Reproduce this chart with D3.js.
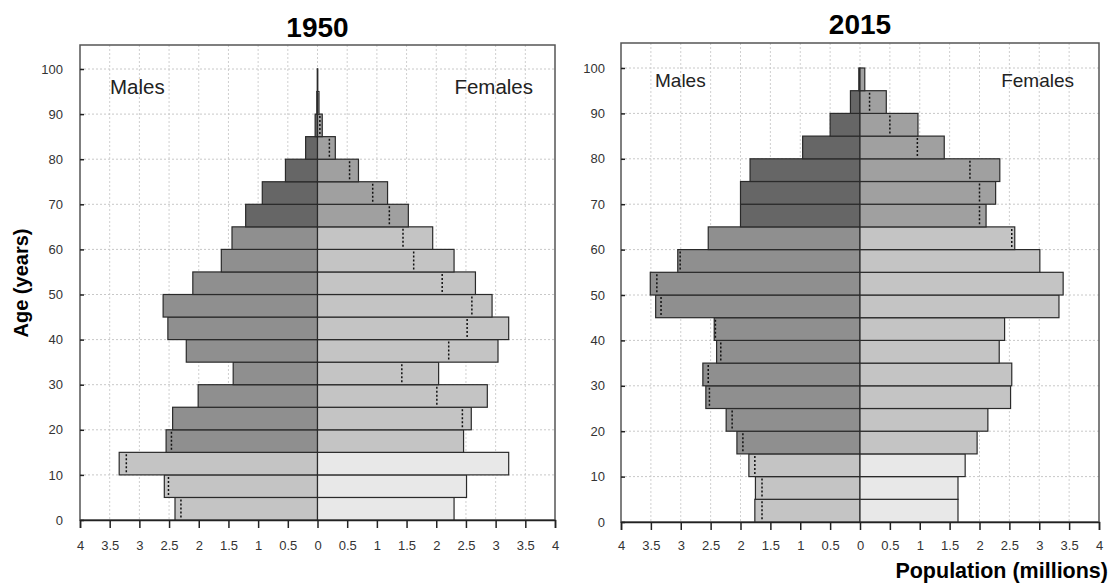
<!DOCTYPE html>
<html>
<head>
<meta charset="utf-8">
<script src="https://cdn.jsdelivr.net/npm/d3@7"></script>
<style>
  html, body { margin: 0; padding: 0; background: #fff; }
  svg { display: block; font-family: "Liberation Sans", Arial, sans-serif; }
</style>
</head>
<body>
<svg id="chart" width="1110" height="584"></svg>
<script>
// ---- data ----
const ageStarts = [0,5,10,15,20,25,30,35,40,45,50,55,60,65,70,75,80,85,90,95];
const ageGroups = ["0-4","5-9","10-14","15-19","20-24","25-29","30-34","35-39","40-44","45-49","50-54","55-59","60-64","65-69","70-74","75-79","80-84","85-89","90-94","95-99"];
const males1950   = [2.40,2.58,3.34,2.55,2.44,2.01,1.42,2.21,2.52,2.60,2.10,1.62,1.44,1.21,0.93,0.54,0.20,0.04,0.012,0.003];
const females1950 = [2.30,2.51,3.22,2.46,2.59,2.86,2.04,3.04,3.22,2.94,2.66,2.30,1.94,1.53,1.18,0.69,0.30,0.08,0.025,0.004];
const males2015   = [1.76,1.75,1.86,2.06,2.24,2.58,2.63,2.40,2.44,3.42,3.51,3.05,2.54,2.00,2.00,1.84,0.96,0.50,0.16,0.02];
const females2015 = [1.64,1.64,1.76,1.96,2.14,2.52,2.54,2.33,2.42,3.33,3.40,3.01,2.59,2.11,2.27,2.34,1.41,0.97,0.44,0.08];
const panelTitles = ["1950","2015"];
const xTickValues = [-4,-3.5,-3,-2.5,-2,-1.5,-1,-0.5,0,0.5,1,1.5,2,2.5,3,3.5,4];
const yTickValues = [0,10,20,30,40,50,60,70,80,90,100];
const sexLabels = ["Males","Females"];

// ---- styling ----
const maleColors   = {young:"#c4c4c4", adult:"#8f8f8f", old:"#666666"};
const femaleColors = {young:"#e8e8e8", adult:"#c4c4c4", old:"#a0a0a0"};
function band(a){ return a < 15 ? "young" : (a < 65 ? "adult" : "old"); }

const svg = d3.select("#chart");

const panels = [
  {title: panelTitles[0], males: males1950, females: females1950,
   x0: 80, x1: 555, yBottom: 520, y100: 69, yTop: 45, titleY: 37,
   labelY: 94, labelSize: 20.5, maleDx: 30, femaleDx: 22, xPad: 13, yPad: 17},
  {title: panelTitles[1], males: males2015, females: females2015,
   x0: 621, x1: 1099, yBottom: 522, y100: 68, yTop: 43, titleY: 34,
   labelY: 87, labelSize: 19, maleDx: 34, femaleDx: 25, xPad: 11, yPad: 16}
];

panels.forEach(p => {
  const x = d3.scaleLinear().domain([-4, 4]).range([p.x0, p.x1]);
  const pxPerYear = (p.yBottom - p.y100) / 100;
  const yTopVal = (p.yBottom - p.yTop) / pxPerYear;
  const y = d3.scaleLinear().domain([0, yTopVal]).range([p.yBottom, p.yTop]);
  const g = svg.append("g");

  // grid
  g.append("g").selectAll("line")
    .data(xTickValues.filter(v => Math.abs(v) < 4))
    .join("line")
    .attr("x1", d => x(d)).attr("x2", d => x(d))
    .attr("y1", y(yTopVal)).attr("y2", y(0))
    .attr("stroke", "#cfcfcf").attr("stroke-width", 1)
    .attr("stroke-dasharray", "2,2");
  g.append("g").selectAll("line")
    .data(yTickValues.filter(v => v > 0))
    .join("line")
    .attr("x1", x(-4)).attr("x2", x(4))
    .attr("y1", d => y(d)).attr("y2", d => y(d))
    .attr("stroke", "#c8c8c8").attr("stroke-width", 1)
    .attr("stroke-dasharray", "2,2");

  // frame
  g.append("rect")
    .attr("x", x(-4)).attr("y", y(yTopVal))
    .attr("width", x(4) - x(-4)).attr("height", y(0) - y(yTopVal))
    .attr("fill", "none").attr("stroke", "#555").attr("stroke-width", 1.5);

  const rows = ageStarts.map((a, i) => ({a, m: p.males[i], f: p.females[i]}));

  // male bars
  g.append("g").selectAll("rect")
    .data(rows).join("rect")
    .attr("x", d => x(-d.m)).attr("width", d => x(0) - x(-d.m))
    .attr("y", d => y(d.a + 5)).attr("height", d => y(d.a) - y(d.a + 5))
    .attr("fill", d => maleColors[band(d.a)])
    .attr("stroke", "#2a2a2a").attr("stroke-width", 1.2);
  // female bars
  g.append("g").selectAll("rect")
    .data(rows).join("rect")
    .attr("x", x(0)).attr("width", d => x(d.f) - x(0))
    .attr("y", d => y(d.a + 5)).attr("height", d => y(d.a) - y(d.a + 5))
    .attr("fill", d => femaleColors[band(d.a)])
    .attr("stroke", "#2a2a2a").attr("stroke-width", 1.2);

  // dotted markers: other sex's value inside the larger bar
  g.append("g").selectAll("line")
    .data(rows.filter(d => d.a < 90 || d.f > 0.1))
    .join("line")
    .attr("x1", d => d.f < d.m ? x(-d.f) : x(d.m))
    .attr("x2", d => d.f < d.m ? x(-d.f) : x(d.m))
    .attr("y1", d => y(d.a + 5) + 2).attr("y2", d => y(d.a) - 1)
    .attr("stroke", "#111").attr("stroke-width", 1.5)
    .attr("stroke-dasharray", "2,2");

  // bottom axis
  const xAxis = d3.axisBottom(x).tickValues(xTickValues)
    .tickFormat(d => d3.format("")(Math.abs(d))).tickSize(8).tickPadding(p.xPad);
  const ax = g.append("g").attr("transform", `translate(0,${y(0)})`).call(xAxis);
  ax.select(".domain").attr("stroke", "#222").attr("stroke-width", 1.5);
  ax.selectAll(".tick line").attr("stroke", "#222").attr("stroke-width", 1.5);
  ax.selectAll(".tick text").attr("fill", "#333").style("font-size", "13px")
    .style("font-family", "'Liberation Sans', Arial, sans-serif");

  // left axis
  const yAxis = d3.axisLeft(y).tickValues(yTickValues).tickSize(-4).tickPadding(p.yPad);
  const ay = g.append("g").attr("transform", `translate(${x(-4)},0)`).call(yAxis);
  ay.select(".domain").remove();
  ay.selectAll(".tick line").attr("stroke", "#222").attr("stroke-width", 1.5);
  ay.selectAll(".tick text").attr("fill", "#333").style("font-size", "13px")
    .style("font-family", "'Liberation Sans', Arial, sans-serif");

  // title
  g.append("text").attr("x", x(0)).attr("y", p.titleY)
    .attr("text-anchor", "middle").attr("font-weight", "bold")
    .attr("font-size", 28).attr("fill", "#000").text(p.title);

  // sex labels
  g.append("text").attr("x", x(-4) + p.maleDx).attr("y", p.labelY)
    .attr("font-size", p.labelSize).attr("fill", "#222").text(sexLabels[0]);
  g.append("text").attr("x", x(4) - p.femaleDx).attr("y", p.labelY)
    .attr("text-anchor", "end")
    .attr("font-size", p.labelSize).attr("fill", "#222").text(sexLabels[1]);
});

// axis titles
svg.append("text")
  .attr("transform", "translate(28,283) rotate(-90)")
  .attr("text-anchor", "middle").attr("font-weight", "bold")
  .attr("font-size", 20).attr("fill", "#000").text("Age (years)");
svg.append("text")
  .attr("x", 1108).attr("y", 578)
  .attr("text-anchor", "end").attr("font-weight", "bold")
  .attr("font-size", 21.5).attr("fill", "#000").text("Population (millions)");
</script>
</body>
</html>
